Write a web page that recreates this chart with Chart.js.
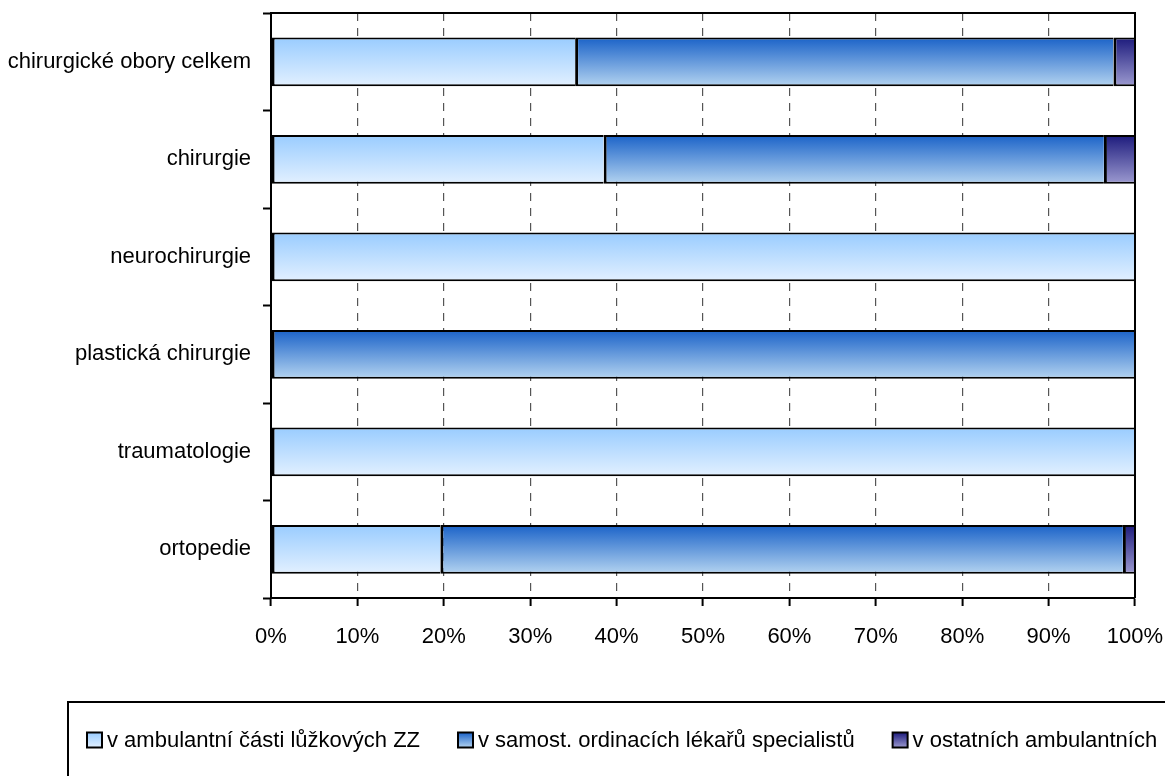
<!DOCTYPE html>
<html>
<head>
<meta charset="utf-8">
<script src="https://cdn.jsdelivr.net/npm/chart.js@4"></script>
<style>
  html, body { margin: 0; padding: 0; background: #fff; }
  #wrap { width: 1165px; height: 776px; }
</style>
</head>
<body>
<div id="wrap"><canvas id="chart" width="1165" height="776"></canvas></div>
<script>
const categories = [
  "chirurgické obory celkem",
  "chirurgie",
  "neurochirurgie",
  "plastická chirurgie",
  "traumatologie",
  "ortopedie",
];
const seriesNames = [
  "v ambulantní části lůžkových ZZ",
  "v samost. ordinacích lékařů specialistů",
  "v ostatních ambulantních",
];
const ambulantniZZ = [35.2, 38.5, 100, 0, 100, 19.6];
const samostOrdinace = [62.3, 57.9, 0, 100, 0, 79.0];
const ostatni = [2.5, 3.6, 0, 0, 0, 1.4];
const xTicks = [0, 10, 20, 30, 40, 50, 60, 70, 80, 90, 100];

// top / bottom colours of the vertical gradients
const gradients = [
  ["#99ccff", "#e2f0ff"],
  ["#1a62c8", "#b3d3f0"],
  ["#1c1a7c", "#9c9ad0"],
];

const FONT = "'Liberation Sans', Arial, sans-serif";
const FONT_SIZE = 22;
const BAR_PCT = 0.5;

function barGradient(idx) {
  return (ctx) => {
    const chart = ctx.chart;
    const scale = chart.scales && chart.scales.y;
    if (!chart.chartArea || !scale || ctx.dataIndex === undefined) return gradients[idx][0];
    const yc = scale.getPixelForValue(ctx.dataIndex);
    const h = (scale.height / categories.length) * BAR_PCT;
    const g = chart.ctx.createLinearGradient(0, yc - h / 2, 0, yc + h / 2);
    g.addColorStop(0, gradients[idx][0]);
    g.addColorStop(1, gradients[idx][1]);
    return g;
  };
}

const frameAndLegend = {
  id: "frameAndLegend",
  afterDraw(chart) {
    const ctx = chart.ctx;
    const a = chart.chartArea;
    ctx.save();
    ctx.strokeStyle = "#000";
    ctx.lineWidth = 2;
    ctx.beginPath();
    ctx.moveTo(a.left - 1, a.top);
    ctx.lineTo(a.right, a.top);
    ctx.lineTo(a.right, a.bottom);
    ctx.stroke();

    // legend box, runs off the right and bottom edge like the original
    ctx.strokeRect(68, 702, 1200, 120);
    ctx.font = FONT_SIZE + "px " + FONT;
    ctx.textBaseline = "middle";
    let x = 87;
    const y = 740;
    const box = 15;
    seriesNames.forEach((name, i) => {
      const g = ctx.createLinearGradient(0, y - box / 2, 0, y + box / 2);
      g.addColorStop(0, gradients[i][0]);
      g.addColorStop(1, gradients[i][1]);
      ctx.fillStyle = g;
      ctx.fillRect(x, y - box / 2, box, box);
      ctx.lineWidth = 2;
      ctx.strokeStyle = "#000";
      ctx.strokeRect(x, y - box / 2, box, box);
      ctx.fillStyle = "#000";
      ctx.fillText(name, x + box + 5, y + 1);
      x += box + 5 + ctx.measureText(name).width + 38;
    });
    ctx.restore();
  },
};

const datasetValues = [ambulantniZZ, samostOrdinace, ostatni];

new Chart(document.getElementById("chart"), {
  type: "bar",
  data: {
    labels: categories,
    datasets: datasetValues.map((vals, i) => ({
      label: seriesNames[i],
      data: vals,
      backgroundColor: barGradient(i),
      borderColor: "#000",
      borderWidth: { top: 2, bottom: 2, left: 3, right: 0 },
      borderSkipped: false,
      barPercentage: BAR_PCT,
      categoryPercentage: 1,
    })),
  },
  options: {
    indexAxis: "y",
    responsive: false,
    animation: false,
    layout: { padding: { left: 0, right: 30, top: 13, bottom: 0 } },
    plugins: {
      legend: { display: false },
      tooltip: { enabled: false },
    },
    scales: {
      x: {
        stacked: true,
        min: 0,
        max: 100,
        afterBuildTicks: (scale) => {
          scale.ticks = xTicks.map((v) => ({ value: v }));
        },
        afterFit: (scale) => {
          scale.height = 178;
          scale.paddingLeft = 0;
          scale.paddingRight = 0;
        },
        ticks: {
          callback: (v) => v + "%",
          color: "#000",
          font: { family: FONT, size: FONT_SIZE },
          padding: 18,
          maxRotation: 0,
        },
        grid: {
          color: "#555",
          lineWidth: 1.2,
          tickLength: 8,
          tickColor: "#000",
          tickWidth: 2,
        },
        border: { display: true, color: "#000", width: 2, dash: [8, 7] },
      },
      y: {
        stacked: true,
        afterFit: (scale) => {
          scale.width = 271;
          scale.paddingTop = 0;
          scale.paddingBottom = 0;
        },
        ticks: {
          color: "#000",
          font: { family: FONT, size: FONT_SIZE },
          padding: 12,
        },
        grid: {
          offset: true,
          drawOnChartArea: false,
          tickLength: 8,
          tickColor: "#000",
          tickWidth: 2,
        },
        border: { display: true, color: "#000", width: 2 },
      },
    },
  },
  plugins: [frameAndLegend],
});
</script>
</body>
</html>
